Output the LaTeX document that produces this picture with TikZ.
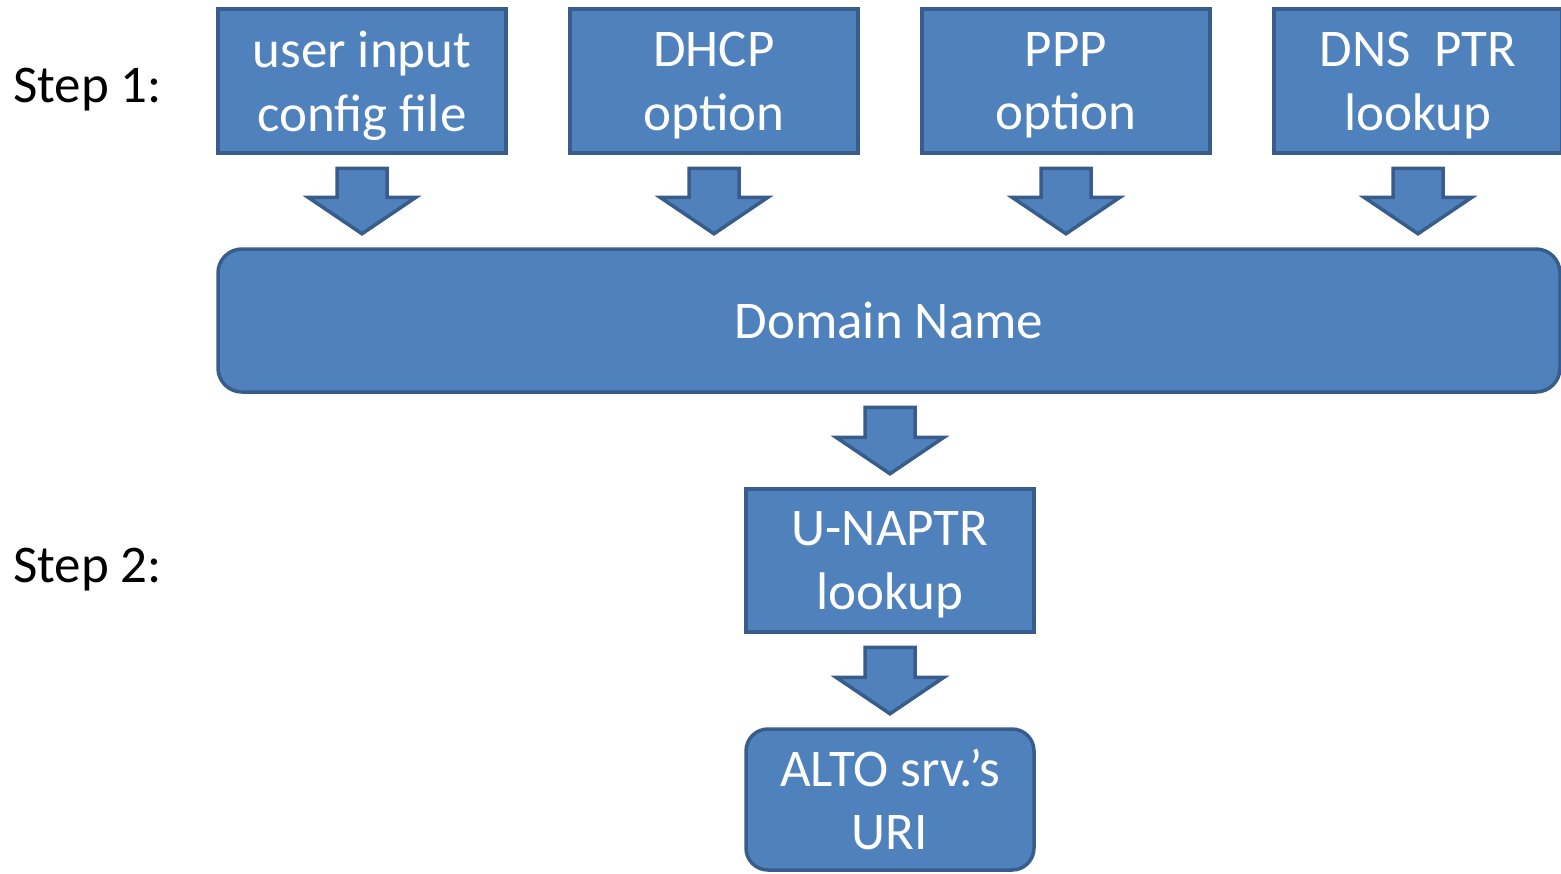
\documentclass[tikz,border=0pt]{standalone}
\usepackage{fontspec}
\setmainfont{Carlito}
\usetikzlibrary{calc}
\definecolor{boxfill}{HTML}{4F81BD}
\definecolor{boxline}{HTML}{385D8A}
\tikzset{
  box/.style={draw=boxline, fill=boxfill, line width=3.5pt, text=white,
    minimum width=288pt, minimum height=144pt, inner sep=0pt, align=center,
    text depth=0pt, font=\fontsize{53}{63.6}\selectfont},
  rbox/.style={box, rounded corners=24pt},
  blockarrow/.style={draw=boxline, fill=boxfill, line width=3.5pt, line join=miter},
  steplabel/.style={inner sep=0pt, anchor=base west, font=\fontsize{53}{63.6}\selectfont}
}
% block arrow from node #1 (south) to node #2 (north), at the x of node #3
\newcommand\blkarrow[3]{%
  \draw[blockarrow]
    ($(#3.center |- #1.south)+(-25,13.5)$) --
    ($(#3.center |- #2.north)+(-25,-50)$) --
    ($(#3.center |- #2.north)+(-54,-50)$) --
    ($(#3.center |- #2.north)+(0,-13.5)$) --
    ($(#3.center |- #2.north)+(54,-50)$) --
    ($(#3.center |- #2.north)+(25,-50)$) --
    ($(#3.center |- #1.south)+(25,13.5)$) -- cycle;}
\begin{document}
\begin{tikzpicture}[x=1pt, y=-1pt]
\useasboundingbox (0,0) rectangle (1561,873);
\clip (0,0) rectangle (1561,873);
\node[box] (uin) at (362,81) {user input\\config file};
\node[box] (dhcp) at (714,81) {DHCP\\option};
\node[box] (ppp) at (1066,81) {PPP\\option};
\node[box] (dns) at (1418,81) {DNS\ \ PTR\\lookup};
\node[rbox, minimum width=1342pt, minimum height=143pt, text depth=-4pt] (dom) at (889,320.5) {Domain Name};
\node[box, minimum height=143pt] (nap) at (890,560.5) {U-NAPTR\\lookup};
\node[rbox, minimum height=141pt, rounded corners=22pt, text depth=-4pt] (alto) at (890,799.5) {ALTO srv.’s\\URI};
\node[steplabel] (s1) at (13,102) {Step 1:};
\node[steplabel] (s2) at (13,582) {Step 2:};
\blkarrow{uin}{dom}{uin}
\blkarrow{dhcp}{dom}{dhcp}
\blkarrow{ppp}{dom}{ppp}
\blkarrow{dns}{dom}{dns}
\blkarrow{dom}{nap}{nap}
\blkarrow{nap}{alto}{alto}
\end{tikzpicture}
\end{document}
